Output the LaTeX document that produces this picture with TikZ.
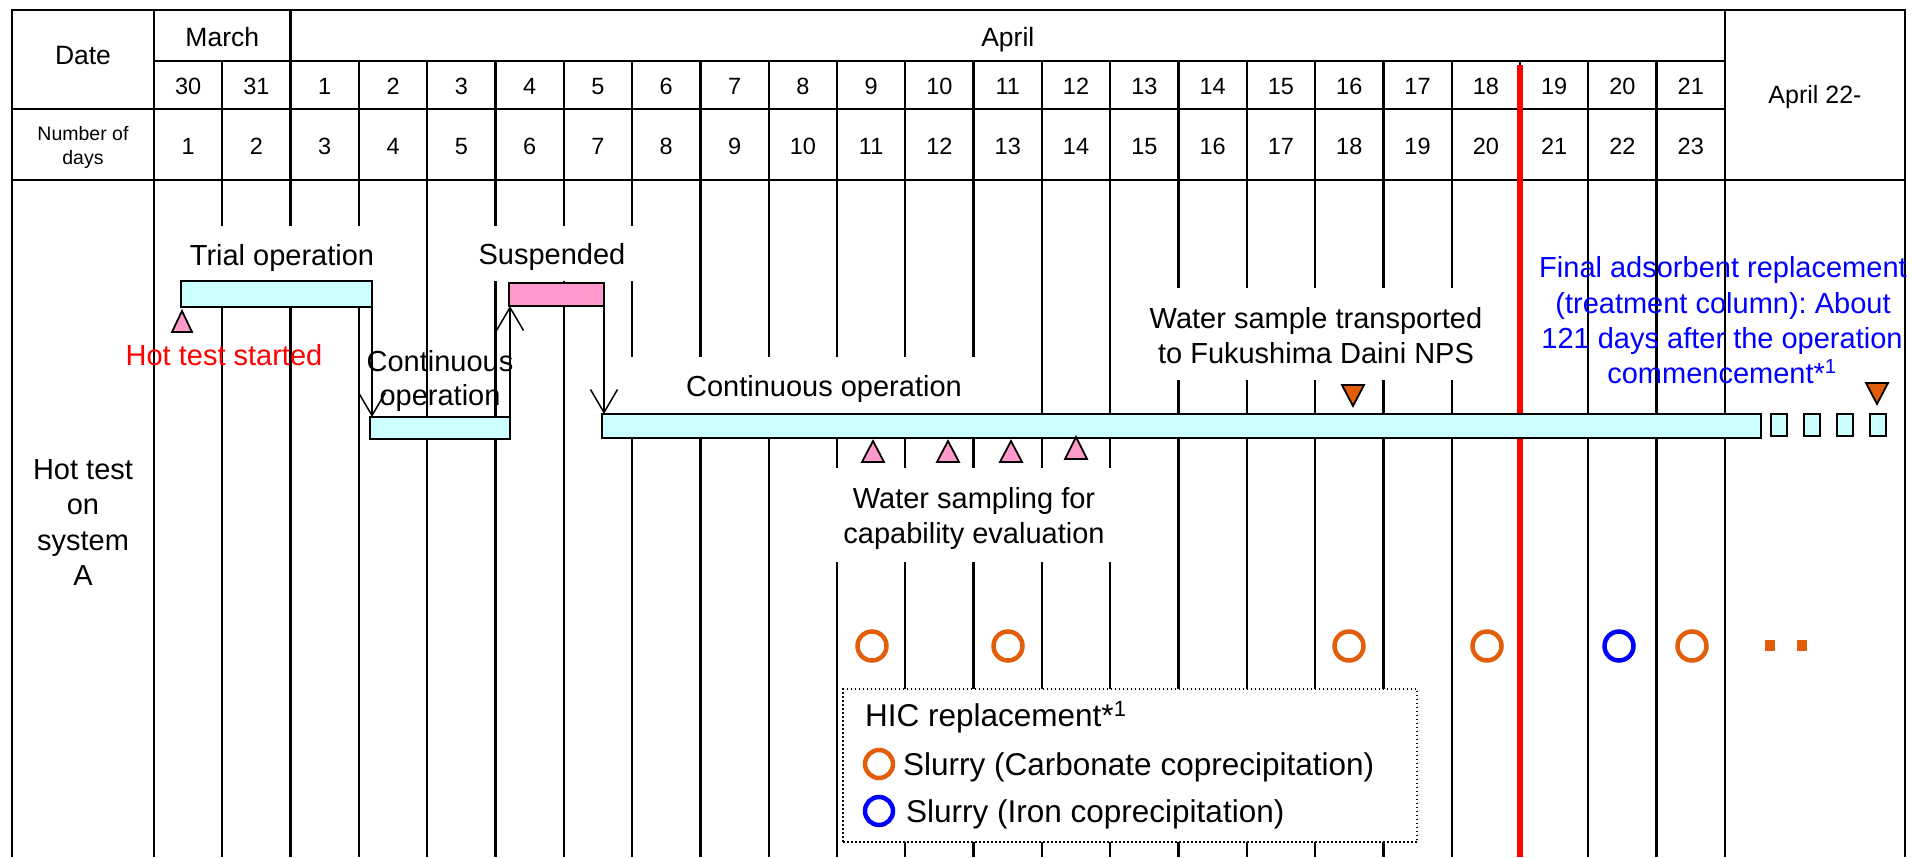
\documentclass[tikz,border=0pt]{standalone}
\usepackage{fontspec}
\setmainfont{Liberation Sans}
\usetikzlibrary{arrows.meta}
\definecolor{boxcyan}{RGB}{204,255,255}
\definecolor{boxpink}{RGB}{255,153,204}
\definecolor{evorange}{RGB}{227,94,10}
\definecolor{evblue}{RGB}{0,0,255}
\definecolor{evred}{RGB}{255,0,0}
\frenchspacing
\begin{document}
\begin{tikzpicture}[x=1pt,y=-1pt,
  tabline/.style={line width=2.3pt, black},
  hdr/.style={font=\fontsize{26.5}{32}\selectfont, anchor=base, inner sep=0pt},
  digit/.style={font=\fontsize{23.5}{28}\selectfont, anchor=base, inner sep=0pt},
  nsmall/.style={font=\fontsize{19.5}{24}\selectfont, anchor=base, inner sep=0pt},
  lbl/.style={font=\fontsize{29}{35}\selectfont, anchor=base, inner sep=0pt},
  legtext/.style={font=\fontsize{31.5}{38}\selectfont, anchor=base west, inner sep=0pt},
  evbar/.style={draw=black, line width=2.3pt, inner sep=0pt, outer sep=0pt},
  cyanbar/.style={evbar, fill=boxcyan},
  pinkbar/.style={evbar, fill=boxpink},
  flowarrow/.style={line width=1.5pt, -{Straight Barb[length=23pt,width=27pt]}},
  uptri/.style={draw=black, line width=1.8pt, fill=boxpink, line join=miter},
  downtri/.style={draw=black, line width=1.8pt, fill=evorange, line join=miter},
  ring/.style={draw=#1, line width=4.5pt},
]
\useasboundingbox (0,0) rectangle (1912,857);

% ---- table frame ----
\draw[tabline] (12,857) -- (12,10) -- (1905,10) -- (1905,857);
\draw[tabline] (154,61) -- (1725,61);
\draw[tabline] (12,109) -- (1725,109);
\draw[tabline] (12,180) -- (1905,180);
\draw[tabline] (154,10) -- (154,857);
\draw[tabline] (1725,10) -- (1725,857);
\draw[tabline] (290.6,10) -- (290.6,180);
\foreach \k in {1,3,4,...,22}{
  \pgfmathsetmacro\xx{154+68.3*\k}
  \draw[tabline] (\xx,61) -- (\xx,180);
}
% ---- body lines ----
\foreach \k in {1,2,3}{
  \pgfmathsetmacro\xx{154+68.3*\k}
  \draw[tabline] (\xx,180) -- (\xx,226) (\xx,307) -- (\xx,857);
}
\foreach \k in {4,21,22}{
  \pgfmathsetmacro\xx{154+68.3*\k}
  \draw[tabline] (\xx,180) -- (\xx,857);
}
\foreach \k in {5,6}{
  \pgfmathsetmacro\xx{154+68.3*\k}
  \draw[tabline] (\xx,180) -- (\xx,226) (\xx,281) -- (\xx,857);
}
\pgfmathsetmacro\xx{154+68.3*7}
\draw[tabline] (\xx,180) -- (\xx,226) (\xx,281) -- (\xx,357) (\xx,438) -- (\xx,857);
\foreach \k in {8,9}{
  \pgfmathsetmacro\xx{154+68.3*\k}
  \draw[tabline] (\xx,180) -- (\xx,357) (\xx,438) -- (\xx,857);
}
\foreach \k in {10,11,12}{
  \pgfmathsetmacro\xx{154+68.3*\k}
  \draw[tabline] (\xx,180) -- (\xx,357) (\xx,438) -- (\xx,468) (\xx,562) -- (\xx,857);
}
\foreach \k in {13,14}{
  \pgfmathsetmacro\xx{154+68.3*\k}
  \draw[tabline] (\xx,180) -- (\xx,468) (\xx,562) -- (\xx,857);
}
\foreach \k in {15,...,19}{
  \pgfmathsetmacro\xx{154+68.3*\k}
  \draw[tabline] (\xx,180) -- (\xx,288) (\xx,380) -- (\xx,857);
}
% red line
\draw[evred, line width=6.5pt] (1520,65) -- (1520,857);

% ---- header text ----
\node[hdr] (date) at (83,64) {Date};
\node[hdr] (march) at (222.3,46) {March};
\node[hdr] (april) at (1007.8,46) {April};
\node[hdr, font=\fontsize{25}{30}\selectfont] (apr22) at (1815,103) {April 22-};
\node[nsmall] (nod1) at (83,140) {Number of};
\node[nsmall] (nod2) at (83,164) {days};
\foreach \d [count=\i from 0] in {30,31,1,2,3,4,5,6,7,8,9,10,11,12,13,14,15,16,17,18,19,20,21}{
  \node[digit] (d\i) at ({154+68.3*\i+34.15},94) {\d};
}
\foreach \i in {0,...,22}{
  \pgfmathtruncatemacro\nn{\i+1}
  \node[digit] (n\i) at ({154+68.3*\i+34.15},154) {\nn};
}

% ---- bars ----
\node[cyanbar, minimum width=191pt, minimum height=26pt] (trial) at (276.5,294) {};
\node[pinkbar, minimum width=95pt, minimum height=23pt] (susp) at (556.5,294.5) {};
\node[cyanbar, minimum width=140pt, minimum height=22pt] (cont1) at (440,428) {};
\node[cyanbar, minimum width=1159pt, minimum height=24pt] (cont2) at (1181.5,426) {};
\foreach \sx [count=\i] in {1779,1812,1845,1878}{
  \node[cyanbar, line width=2pt, minimum width=16pt, minimum height=22pt] (sq\i) at (\sx,425) {};
}

% ---- arrows ----
\draw[flowarrow] (trial.south east) -- (trial.south east |- cont1.north);
\draw[flowarrow] (cont1.north east) -- (cont1.north east |- susp.south);
\draw[flowarrow] (susp.south east) -- (susp.south east |- cont2.north);

% ---- triangles ----
\draw[uptri] (172,332) -- (182,311) -- (192,332) -- cycle;
\foreach \tx in {873,948,1011}{
  \draw[uptri] (\tx-11,462) -- (\tx,441) -- (\tx+11,462) -- cycle;
}
\draw[uptri] (1065,459) -- (1076,437) -- (1087,459) -- cycle;
\draw[downtri] (1342,385) -- (1364,385) -- (1353,406) -- cycle;
\draw[downtri] (1866,383) -- (1888,383) -- (1877,404) -- cycle;

% ---- labels ----
\node[lbl] (triallbl) at (282,265) {Trial operation};
\node[lbl] (susplbl) at (552,264) {Suspended};
\node[lbl, text=evred] (hotlbl) at (224,365) {Hot test started};
\node[lbl] (cont1a) at (440,371) {Continuous};
\node[lbl] (cont1b) at (440,405) {operation};
\node[lbl] (cont2lbl) at (824,396) {Continuous operation};
\node[lbl] (wst1) at (1316,328) {Water sample transported};
\node[lbl] (wst2) at (1316,363) {to Fukushima Daini NPS};
\node[lbl] (wsf1) at (974,508) {Water sampling for};
\node[lbl] (wsf2) at (974,543) {capability evaluation};
\node[lbl, text=evblue] (fin1) at (1723,277) {Final adsorbent replacement};
\node[lbl, text=evblue] (fin2) at (1723,313) {(treatment column): About};
\node[lbl, text=evblue] (fin3) at (1722,348) {121 days after the operation};
\node[lbl, text=evblue] (fin4) at (1722,383) {commencement*\textsuperscript{1}};
\node[lbl] (sys1) at (83,479) {Hot test};
\node[lbl] (sys2) at (83,514) {on};
\node[lbl] (sys3) at (83,550) {system};
\node[lbl] (sys4) at (83,585) {A};

% ---- HIC rings ----
\foreach \cx in {872,1008,1349,1487,1692}{
  \draw[ring=evorange] (\cx,646) circle[radius=14.5];
}
\draw[ring=evblue] (1619,646) circle[radius=14.5];
\fill[evorange] (1765,640) rectangle (1775,651);
\fill[evorange] (1797,640) rectangle (1807,651);

% ---- legend ----
\node[draw=black, fill=white, line width=1.5pt, dash pattern=on 1.5pt off 2.5pt,
      minimum width=574pt, minimum height=153pt, inner sep=0pt] (legend) at (1130,765.5) {};
\node[legtext] (leghead) at (865,726) {HIC replacement*\textsuperscript{1}};
\draw[ring=evorange] (879,764) circle[radius=14];
\node[legtext] (legcarb) at (903,775) {Slurry (Carbonate coprecipitation)};
\draw[ring=evblue] (879,811) circle[radius=14];
\node[legtext] (legiron) at (906,822) {Slurry (Iron coprecipitation)};
\end{tikzpicture}
\end{document}
